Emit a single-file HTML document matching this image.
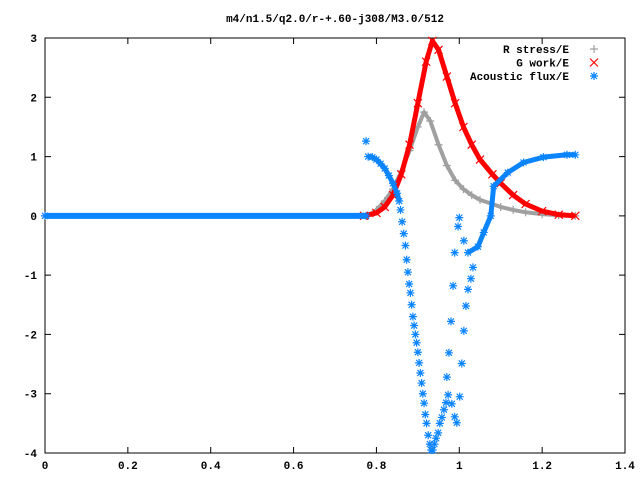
<!DOCTYPE html>
<html><head><meta charset="utf-8"><style>
body{margin:0;background:#fff}
svg text{font-family:"Liberation Mono",monospace;font-size:11px;font-weight:bold;fill:#000}
</style></head><body>
<svg id="c" width="640" height="480" xmlns="http://www.w3.org/2000/svg">
<rect width="640" height="480" fill="#fff"/>
<text x="335" y="22" text-anchor="middle">m4/n1.5/q2.0/r-+.60-j308/M3.0/512</text>
<g id="axes"></g>
<g id="series"></g>
<g id="legend"></g>
</svg>
<script>
const xTicks=[0,0.2,0.4,0.6,0.8,1,1.2,1.4];
const xTickLabels=["0","0.2","0.4","0.6","0.8","1","1.2","1.4"];
const yTicks=[-4,-3,-2,-1,0,1,2,3];
const yTickLabels=["-4","-3","-2","-1","0","1","2","3"];
const stressX=[0,0.78,0.80,0.82,0.84,0.86,0.88,0.90,0.915,0.93,0.95,0.97,0.99,1.01,1.03,1.05,1.08,1.10,1.13,1.16,1.20,1.24,1.28];
const stressY=[0,0,0.1,0.25,0.45,0.75,1.1,1.5,1.75,1.6,1.2,0.85,0.6,0.45,0.35,0.27,0.2,0.15,0.1,0.06,0.03,0.01,0];
const workX=[0.77,0.80,0.82,0.84,0.86,0.88,0.90,0.92,0.935,0.95,0.97,0.99,1.01,1.03,1.05,1.08,1.10,1.13,1.16,1.20,1.24,1.28];
const workY=[0,0.05,0.15,0.35,0.7,1.2,1.9,2.6,2.95,2.8,2.35,1.9,1.5,1.2,0.95,0.7,0.55,0.35,0.2,0.08,0.02,0];
const fluxZeroX=[0,0.775];
const fluxZeroY=[0,0];
const fluxTopX=[0.78,0.79,0.80,0.81,0.82,0.83,0.84,0.85,0.855];
const fluxTopY=[1.0,0.99,0.95,0.88,0.8,0.68,0.55,0.38,0.25];
const fluxDownX=[0.858,0.862,0.866,0.870,0.873,0.876,0.879,0.882,0.885,0.888,0.891,0.894,0.897,0.900,0.903,0.906,0.909,0.912,0.915,0.918,0.921,0.925,0.929,0.932,0.936,0.940,0.944,0.949,0.953,0.958,0.963,0.968,0.973];
const fluxDownY=[0.1,-0.1,-0.3,-0.5,-0.74,-0.95,-1.15,-1.3,-1.5,-1.7,-1.85,-2.0,-2.14,-2.3,-2.48,-2.65,-2.82,-3.0,-3.16,-3.35,-3.5,-3.7,-3.85,-3.95,-3.95,-3.85,-3.75,-3.66,-3.5,-3.4,-3.27,-3.15,-3.02];
const fluxRX=[1.021,1.045,1.059,1.076,1.083,1.117,1.155,1.203,1.26,1.28];
const fluxRY=[-0.62,-0.52,-0.28,0,0.5,0.73,0.9,0.99,1.03,1.03];
const scatX=[0.775,1.0,0.997,1.011,0.989,1.033,1.028,0.985,1.021,1.016,0.98,1.011,0.975,1.006,0.97,1.001,0.982,0.989,0.994];
const scatY=[1.26,-0.03,-0.18,-0.42,-0.62,-0.87,-1.06,-1.18,-1.24,-1.52,-1.78,-1.94,-2.31,-2.49,-2.72,-3.05,-3.17,-3.39,-3.49];
const L=45,R=625,T=38,B=453,xmin=0,xmax=1.4,ymin=-4,ymax=3;
const sx=v=>L+(v-xmin)/(xmax-xmin)*(R-L);
const sy=v=>B-(v-ymin)/(ymax-ymin)*(B-T);
const NS="http://www.w3.org/2000/svg";
function mk(tag,attrs,parent){const e=document.createElementNS(NS,tag);for(const k in attrs)e.setAttribute(k,attrs[k]);parent.appendChild(e);return e;}
const axes=document.getElementById('axes');
const frame=mk('rect',{x:L,y:T,width:R-L,height:B-T,fill:'none',stroke:'#000','stroke-width':1},axes);


xTicks.forEach((v,i)=>{
 const x=sx(v);
 const t=mk('path',{d:`M${x},${B}v-6M${x},${T}v6`,stroke:'#000'},axes);
 
 
 const lb=mk('text',{x:x,y:B+16,'text-anchor':'middle'},axes);lb.textContent=xTickLabels[i];
 
 
});
yTicks.forEach((v,i)=>{
 const y=sy(v);
 const t=mk('path',{d:`M${L},${y}h6M${R},${y}h-6`,stroke:'#000'},axes);
 
 
 const lb=mk('text',{x:L-8,y:y+4,'text-anchor':'end'},axes);lb.textContent=yTickLabels[i];
 
 
});
const ser=document.getElementById('series');
function marker(type,x,y,c,g){
 let d;
 if(type==='+')d=`M${x-4},${y}h8M${x},${y-4}v8`;
 else if(type==='x')d=`M${x-4},${y-4}l8,8M${x-4},${y+4}l8,-8`;
 else d=`M${x-4},${y}h8M${x},${y-4}v8M${x-3},${y-3}l6,6M${x-3},${y+3}l6,-6`;
 const p=mk('path',{d:d,stroke:c,'stroke-width':1.2,fill:'none'},g);
 
 
}
function series(xs,ys,type,c,w,name,line){
 const g=mk('g',{},ser);
 
 
 if(line){
  const pl=mk('polyline',{points:xs.map((v,i)=>sx(v)+','+sy(ys[i])).join(' '),fill:'none',stroke:c,'stroke-width':w,'stroke-linejoin':'round'},g);
  
  
 }
 xs.forEach((v,i)=>marker(type,sx(v),sy(ys[i]),c,g));
}
series(stressX,stressY,'+','#a0a0a0',4,'r-stress-series',true);
series(workX,workY,'x','#ff0000',5,'g-work-series',true);
series(fluxZeroX,fluxZeroY,'*','#0a84ff',6,'acoustic-flux-zero',true);
series(fluxTopX,fluxTopY,'*','#0a84ff',5,'acoustic-flux-top',true);
series(fluxDownX,fluxDownY,'*','#0a84ff',5,'acoustic-flux-dip',false);
series(fluxRX,fluxRY,'*','#0a84ff',5,'acoustic-flux-right-branch',true);
series(scatX,scatY,'*','#0a84ff',5,'acoustic-flux-scatter',false);
const lg=document.getElementById('legend');
[["R stress/E",'+','#a0a0a0'],["G work/E",'x','#ff0000'],["Acoustic flux/E",'*','#0a84ff']].forEach((e,i)=>{
 const y=49+i*13.5;
 const t=mk('text',{x:569,y:y+4,'text-anchor':'end'},lg);t.textContent=e[0];
 
 
 const g=mk('g',{},lg);
 
 
 marker(e[1],594,y,e[2],g);
});
</script>
</body></html>
